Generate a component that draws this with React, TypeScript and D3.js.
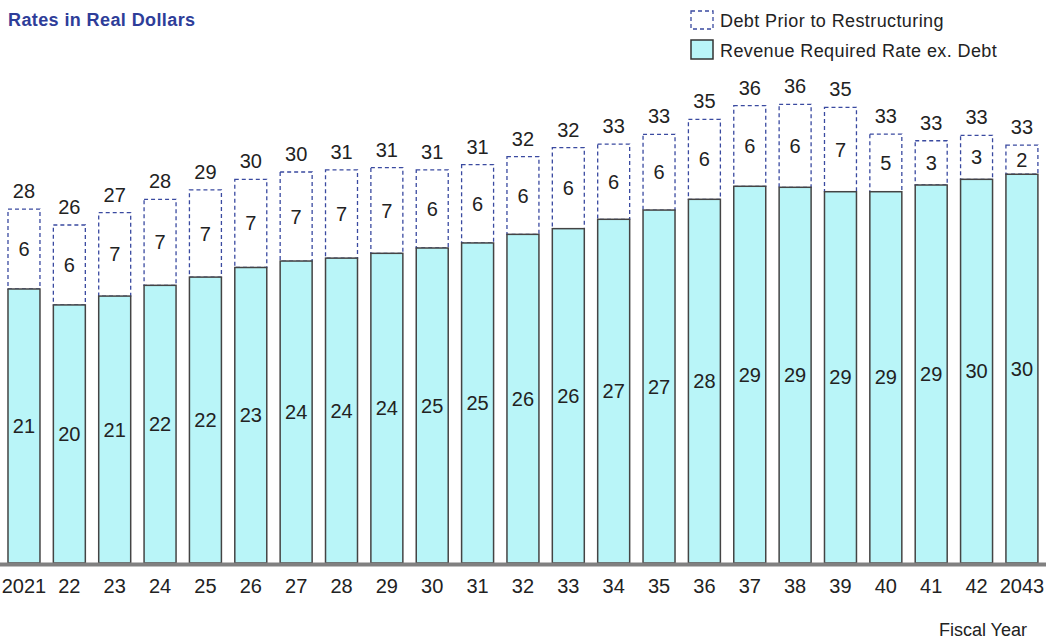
import React from "react";
import * as d3 from "d3";

const years = ["2021","22","23","24","25","26","27","28","29","30","31","32","33","34","35","36","37","38","39","40","41","42","2043"];
const revenue = [21.66,20.4,21.1,21.95,22.6,23.36,23.87,24.1,24.48,24.9,25.3,25.98,26.43,27.17,27.9,28.75,29.78,29.7,29.35,29.35,29.88,30.33,30.73];
const debt = [6.32,6.32,6.59,6.8,6.89,6.97,7.04,6.97,6.77,6.17,6.19,6.14,6.4,5.95,5.99,6.32,6.37,6.56,6.67,4.56,3.5,3.48,2.31];
const revenueLabels = ["21","20","21","22","22","23","24","24","24","25","25","26","26","27","27","28","29","29","29","29","29","30","30"];
const debtLabels = ["6","6","7","7","7","7","7","7","7","6","6","6","6","6","6","6","6","6","7","5","3","3","2"];
const totalLabels = ["28","26","27","28","29","30","30","31","31","31","31","32","32","33","33","35","36","36","35","33","33","33","33"];

const W = 1052, H = 641;
const FONT = "'Liberation Sans', Arial, sans-serif";
const CYAN = "#b9f5f8";
const BLUE = "#3a4aa0";

export default function App() {
  const x = d3.scaleBand<string>().domain(years).range([1.3, 1044.6]).paddingInner(0.295).paddingOuter(0.1475);
  const y = d3.scaleLinear().domain([0, 40]).range([563, 57]);
  const bw = x.bandwidth();
  return (
    <svg width={W} height={H} style={{ position: "absolute", left: 0, top: 0, background: "#fff" }} fontFamily={FONT}>
      <text x={8} y={26} fontSize={18} fontWeight="bold" fill="#2e3d99" letterSpacing={0.4}>Rates in Real Dollars</text>
      {/* legend */}
      <rect x={691} y={11} width={22} height={18} fill="none" stroke={BLUE} strokeWidth={1.3} strokeDasharray="4,3" />
      <text x={720} y={27} fontSize={18} fill="#222" letterSpacing={0.4}>Debt Prior to Restructuring</text>
      <rect x={691} y={40} width={22} height={19} fill={CYAN} stroke="#333" strokeWidth={1.5} />
      <text x={720} y={57} fontSize={18} fill="#222" letterSpacing={0.4}>Revenue Required Rate ex. Debt</text>
      {years.map((yr, i) => {
        const x0 = x(yr)!;
        const cx = x0 + bw / 2;
        const yRev = y(revenue[i]);
        const yTot = y(revenue[i] + debt[i]);
        const y0 = y(0);
        return (
          <g key={yr}>
            <rect x={x0} y={yTot} width={bw} height={yRev - yTot} fill="none" stroke={BLUE} strokeWidth={1.3} strokeDasharray="4,3" />
            <rect x={x0} y={yRev} width={bw} height={y0 - yRev} fill={CYAN} stroke="#444" strokeWidth={1.5} />
            <text x={cx} y={(yRev + y0) / 2 + 7} fontSize={20} textAnchor="middle" fill="#222">{revenueLabels[i]}</text>
            <text x={cx} y={(yRev + yTot) / 2 + 7} fontSize={20} textAnchor="middle" fill="#222">{debtLabels[i]}</text>
            <text x={cx} y={yTot - 11} fontSize={20} textAnchor="middle" fill="#222">{totalLabels[i]}</text>
            <text x={cx} y={593} fontSize={20} textAnchor="middle" fill="#222">{yr}</text>
          </g>
        );
      })}
      <line x1={0} x2={1046} y1={564.5} y2={564.5} stroke="#808080" strokeWidth={4} />
      <text x={1027} y={636} fontSize={18} textAnchor="end" fill="#222">Fiscal Year</text>
    </svg>
  );
}
